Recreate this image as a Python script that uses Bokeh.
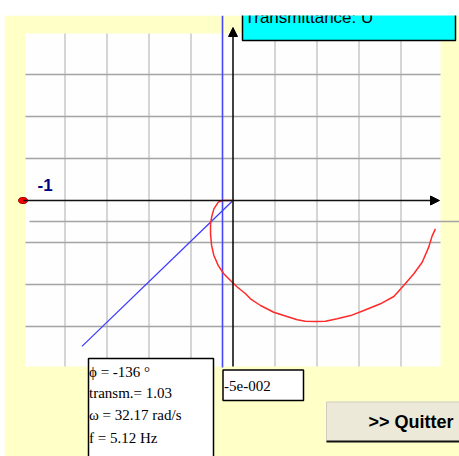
from bokeh.plotting import figure
from bokeh.models import Range1d, Arrow, NormalHead
from bokeh.core.properties import value
from bokeh.embed import file_html
from bokeh.resources import INLINE
import math

# ---- data -------------------------------------------------------------
# Nyquist locus (real part, imaginary part)
curve_re = [0.0, -0.051, -0.070, -0.091, -0.102, -0.107, -0.107, -0.102, -0.091,
            -0.070, -0.044, -0.012, 0.020, 0.060, 0.083, 0.131, 0.194, 0.242,
            0.306, 0.345, 0.393, 0.440, 0.496, 0.560, 0.623, 0.702, 0.766,
            0.813, 0.861, 0.901, 0.932, 0.949, 0.964]
curve_im = [0.0, 0.0, -0.008, -0.040, -0.080, -0.111, -0.159, -0.214, -0.262,
            -0.310, -0.349, -0.381, -0.412, -0.444, -0.468, -0.500, -0.532, -0.548,
            -0.568, -0.575, -0.576, -0.575, -0.563, -0.548, -0.524, -0.492, -0.457,
            -0.405, -0.349, -0.294, -0.222, -0.167, -0.135]

grid_x = [-0.8, -0.6, -0.4, -0.2, 0.2, 0.4, 0.6, 0.8]
grid_y = [0.6, 0.4, 0.2, -0.2, -0.4, -0.6]
marker_y = [-0.1]

critical_point = (-1.0, 0.0)
cursor_re = -0.05          # vertical cursor position, shown as -5e-002
phase_deg = -136           # phase at cursor
ray_len = 1.0

info_lines = ["\u03d5 = -136 \u00b0", "transm.= 1.03", "\u03c9 = 32.17 rad/s", "f = 5.12 Hz"]
cursor_label = "-5e-002"
title_text = "Transmittance: U"
button_text = ">> Quitter"

# ---- geometry helpers (window pixels -> plane units) -------------------
W, H = 459, 456
OX, OY, S = 232.5, 200.0, 210.0


def fx(px):
    return (px - OX) / S


def fy(py):
    return (OY - py) / S


X0, X1 = fx(25), fx(440)
Y0, Y1 = fy(366), fy(33)

p = figure(width=W, height=H, output_backend="svg", toolbar_location=None,
           x_range=Range1d(fx(0), fx(W)), y_range=Range1d(fy(H), fy(0)),
           min_border=0, background_fill_color="white", border_fill_color="white")
p.axis.visible = False
p.grid.visible = False
p.outline_line_color = None

# window background and plotting panel
p.quad(left=fx(4), right=fx(W + 5), bottom=fy(H + 5), top=fy(15),
       fill_color="#FFFFC8", line_color=None)
p.quad(left=X0, right=X1, bottom=Y0, top=Y1, fill_color="#FEFEFE", line_color=None)

# grid
p.segment(x0=grid_x, x1=grid_x, y0=[Y0] * len(grid_x), y1=[Y1] * len(grid_x),
          line_color="#CBCBCB", line_width=1.6)
p.segment(x0=[X0] * len(grid_y), x1=[X1] * len(grid_y), y0=grid_y, y1=grid_y,
          line_color="#A4A4A4", line_width=1.6)
p.segment(x0=[fx(29)], x1=[fx(W + 5)], y0=marker_y, y1=marker_y,
          line_color="#A4A4A4", line_width=1.6)

# cursor line
p.segment(x0=[cursor_re], x1=[cursor_re], y0=[fy(367)], y1=[fy(15)],
          line_color="#4646FF", line_width=1.6)

# axes with arrows
p.add_layout(Arrow(x_start=critical_point[0], y_start=0, x_end=fx(439), y_end=0,
                   line_color="#111111", line_width=1.6,
                   end=NormalHead(size=9, fill_color="black", line_color="black")))
p.add_layout(Arrow(x_start=0, y_start=Y0, x_end=0, y_end=fy(27),
                   line_color="#111111", line_width=1.6,
                   end=NormalHead(size=9, fill_color="black", line_color="black")))

# phase ray
ang = math.radians(phase_deg)
p.line([0, ray_len * math.cos(ang)], [0, ray_len * math.sin(ang)],
       line_color="#3C3CFF", line_width=1.3)

# Nyquist locus
p.line(curve_re, curve_im, line_color="#FF2A2A", line_width=1.5)

# critical point -1
p.ellipse(x=[critical_point[0]], y=[critical_point[1]], width=9, height=6,
          width_units="screen", height_units="screen",
          fill_color="#FF0000", line_color="#9A0000", line_width=1)
p.text(x=[fx(37)], y=[fy(184)], text=["-1"], text_font=value("Liberation Sans"),
       text_font_size="17px", text_font_style="bold", text_color="#000080",
       text_baseline="alphabetic")

# title box
p.quad(left=fx(242), right=fx(455), bottom=fy(40), top=fy(5),
       fill_color="#00FFFF", line_color="black", line_width=1.5)
p.text(x=[fx(244)], y=[fy(17)], text=[title_text], text_font=value("Liberation Sans"),
       text_font_size="17px", text_color="black", text_baseline="alphabetic")

# info box
p.quad(left=fx(88), right=fx(213), bottom=fy(H + 5), top=fy(358),
       fill_color="white", line_color="black", line_width=1.5)
p.text(x=[fx(88.5)] * 4, y=[fy(371), fy(392.5), fy(414.5), fy(437)], text=info_lines,
       text_font=value("Liberation Serif"), text_font_size="15px",
       text_color="black", text_baseline="alphabetic")

# cursor value box
p.quad(left=fx(222.5), right=fx(303), bottom=fy(400), top=fy(369.5),
       fill_color="white", line_color="black", line_width=1.5)
p.text(x=[fx(223.5)], y=[fy(385)], text=[cursor_label],
       text_font=value("Liberation Serif"), text_font_size="15px",
       text_color="black", text_baseline="alphabetic")

# quit button
p.quad(left=fx(326), right=fx(W + 5), bottom=fy(441), top=fy(401.5),
       fill_color="#ECE9D8", line_color="#CFCBC0", line_width=1)
p.segment(x0=[fx(326)], x1=[fx(W + 5)], y0=[fy(441)], y1=[fy(441)],
          line_color="#111111", line_width=2)
p.text(x=[fx(368)], y=[fy(421)], text=[button_text], text_font=value("Liberation Sans"),
       text_font_size="18px", text_font_style="bold", text_color="black",
       text_baseline="alphabetic")

# window edges
p.quad(left=fx(-5), right=fx(W + 5), bottom=fy(15), top=fy(-5),
       fill_color="white", line_color=None)
p.quad(left=fx(-5), right=fx(4), bottom=fy(H + 5), top=fy(-5),
       fill_color="white", line_color=None)

open("out.html", "w").write(file_html(p, INLINE))
